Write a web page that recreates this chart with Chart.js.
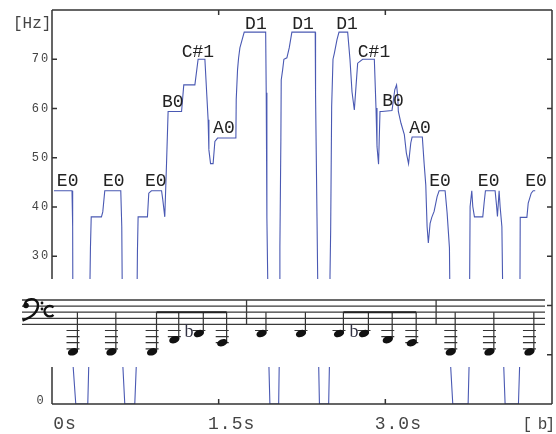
<!DOCTYPE html>
<html>
<head>
<meta charset="utf-8">
<script src="https://cdn.jsdelivr.net/npm/chart.js@4"></script>
<style>
  html, body { margin: 0; padding: 0; background: #fff; }
</style>
</head>
<body>
<canvas id="pitchChart" width="556" height="434"></canvas>
<script>
// pitch contour (seconds, Hz)
const times = [
  0.018, 0.180, 0.186, 0.189, 0.214,
  0.322, 0.331, 0.346, 0.353, 0.445, 0.457, 0.475, 0.619, 0.628, 0.637, 0.655,
  0.745, 0.759, 0.769, 0.775, 0.859, 0.871, 0.895, 0.986, 0.997, 1.015, 1.031, 1.045,
  1.166, 1.186, 1.286, 1.315, 1.376, 1.394, 1.405, 1.412, 1.427, 1.450, 1.466, 1.490,
  1.655, 1.658, 1.670, 1.679, 1.691, 1.730, 1.923, 1.928, 1.934, 1.952, 1.961,
  2.040, 2.045, 2.051, 2.060, 2.063, 2.076, 2.087, 2.114, 2.135, 2.159, 2.369, 2.372,
  2.385, 2.400, 2.407,
  2.490, 2.497, 2.502, 2.508, 2.517, 2.529, 2.541, 2.565, 2.583, 2.661, 2.682, 2.700,
  2.721, 2.736, 2.751, 2.796, 2.901, 2.916, 2.925, 2.939, 2.952, 2.970, 3.060, 3.085,
  3.101, 3.112, 3.117, 3.141, 3.171, 3.189, 3.209, 3.229, 3.241, 3.333, 3.349, 3.364,
  3.369, 3.376, 3.387, 3.403, 3.418, 3.439, 3.466, 3.484, 3.538, 3.556, 3.577, 3.587, 3.607,
  3.745, 3.754, 3.763, 3.778, 3.787, 3.802, 3.877, 3.889, 3.901, 3.988, 4.000, 4.009,
  4.015, 4.024, 4.033, 4.049, 4.065, 4.078,
  4.198, 4.209, 4.214, 4.274, 4.286, 4.313, 4.331, 4.349
];
const pitch = [
  43.3, 43.3, 36, 8, 0,
  0, 8, 31.7, 38, 38, 39, 43.3, 43.3, 36, 8, 0,
  0, 8, 31, 38, 38, 42.8, 43.3, 43.3, 41.5, 38, 49, 59.4,
  59.4, 64.8, 64.8, 70, 70, 62.4, 57.7, 51.6, 48.8, 48.8, 53.3, 54,
  54, 61.8, 67.9, 70.2, 72.3, 75.5, 75.5, 63.2, 37.8, 8, 0,
  0, 8, 32, 54, 65.8, 67.9, 70, 70.3, 72.3, 75.5, 75.5, 62.8,
  37.8, 8, 0,
  0, 8, 26, 35.3, 60.4, 70, 71.2, 74, 75.5, 75.5, 69.9, 63.4,
  59.7, 64.5, 69.2, 70, 70, 60.1, 52.3, 48.7, 59.4, 59.4, 59.6, 63.8,
  64.8, 62.4, 59.4, 57, 54.7, 51, 48.8, 53, 54.2, 54.2, 48.9, 44.5,
  40.8, 36, 32.7, 36.7, 37.9, 39.1, 42.1, 43.3, 43.3, 38.8, 31.7, 8, 0,
  0, 8, 40.1, 43.3, 40.1, 38, 38, 40.8, 43.3, 43.3, 40.5, 38.1,
  40.1, 43.3, 40.1, 36, 8, 0,
  0, 8, 37.9, 37.9, 40.8, 42.8, 43.3, 43.3
];

// note names written above the contour
const noteNames = ["E0", "E0", "E0", "B0", "C#1", "A0", "D1", "D1", "D1", "C#1", "B0", "A0", "E0", "E0", "E0"];
const noteLabelTimes = [0.141, 0.556, 0.934, 1.087, 1.313, 1.547, 1.835, 2.259, 2.655, 2.898, 3.069, 3.312, 3.493, 3.930, 4.357];
const noteLabelHz = [44.3, 44.3, 44.3, 60.3, 70.5, 55.0, 76.2, 76.2, 76.2, 70.5, 60.5, 55.0, 44.3, 44.3, 44.3];

// score: note time, staff step below the bottom line, flat sign
const staffNoteTimes = [0.189, 0.535, 0.901, 1.101, 1.322, 1.532, 1.886, 2.241, 2.583, 2.808, 3.022, 3.238, 3.589, 3.937, 4.297];
const staffSteps = [9, 9, 9, 5, 3, 6, 3, 3, 3, 3, 5, 6, 9, 9, 9];
const staffFlats = [0, 0, 0, 0, 1, 0, 0, 0, 0, 1, 0, 0, 0, 0, 0];
const beamGroups = [[2, 5], [8, 11]];
const barTimes = [1.751, 3.457];

const yTickLabels = [0, 30, 40, 50, 60, 70];
const yRightTicks = [10, 20, 30, 40, 50, 60, 70];
const xTicks = [0, 1.5, 3.0];
const xTickLabels = ["0s", "1.5s", "3.0s"];

const MONO = '"Liberation Mono", "DejaVu Sans Mono", monospace';

const overlay = {
  id: "overlay",
  afterDatasetsDraw(chart) {
    const ctx = chart.ctx;
    const a = chart.chartArea;
    const xs = chart.scales.x, ys = chart.scales.y;
    const bandTop = 279, bandBot = 367;
    ctx.save();

    // blank band for the score
    ctx.fillStyle = "#fff";
    ctx.fillRect(14, bandTop, a.right - 3 - 14, bandBot - bandTop);

    // frame
    ctx.strokeStyle = "#333";
    ctx.lineWidth = 1.5;
    ctx.beginPath();
    ctx.moveTo(a.left, a.top); ctx.lineTo(a.right, a.top);
    ctx.moveTo(a.right, a.top); ctx.lineTo(a.right, a.bottom);
    ctx.moveTo(a.left, a.bottom); ctx.lineTo(a.right, a.bottom);
    ctx.moveTo(a.left, a.top); ctx.lineTo(a.left, bandTop);
    ctx.moveTo(a.left, bandBot); ctx.lineTo(a.left, a.bottom);
    yTickLabels.forEach(v => {
      if (v === 0) return;
      const y = ys.getPixelForValue(v);
      ctx.moveTo(a.left, y); ctx.lineTo(a.left + 5, y);
    });
    yRightTicks.forEach(v => {
      const y = ys.getPixelForValue(v);
      ctx.moveTo(a.right - 5, y); ctx.lineTo(a.right, y);
    });
    xTicks.forEach(t => {
      if (t === 0) return;
      const x = xs.getPixelForValue(t);
      ctx.moveTo(x, a.bottom); ctx.lineTo(x, a.bottom - 5);
      ctx.moveTo(x, a.top); ctx.lineTo(x, a.top + 5);
    });
    ctx.stroke();

    // axis texts
    ctx.fillStyle = "#444";
    ctx.font = "12px " + MONO;
    ctx.letterSpacing = "2px";
    ctx.textAlign = "center";
    ctx.textBaseline = "middle";
    yTickLabels.forEach(v => {
      const y = ys.getPixelForValue(v) - (v === 0 ? 3 : 0);
      ctx.fillText(String(v), 41, y);
    });
    ctx.letterSpacing = "1px";
    ctx.font = "18px " + MONO;
    ctx.textBaseline = "alphabetic";
    xTicks.forEach((t, i) => {
      ctx.fillText(xTickLabels[i], xs.getPixelForValue(t) + 13, 429);
    });
    ctx.letterSpacing = "0px";
    ctx.font = "16px " + MONO;
    ctx.textAlign = "left";
    ctx.fillText("[Hz]", 13, 28);
    ctx.textAlign = "right";
    ctx.letterSpacing = "-2px";
    ctx.fillText("[ b]", 553, 429);
    ctx.letterSpacing = "0px";

    // note names
    ctx.fillStyle = "#222";
    ctx.font = "18px " + MONO;
    ctx.textAlign = "center";
    noteNames.forEach((n, i) => {
      ctx.fillText(n, xs.getPixelForValue(noteLabelTimes[i]), ys.getPixelForValue(noteLabelHz[i]));
    });

    // staff
    const top = 300, gap = 6.1;
    const bottomLine = top + 4 * gap;
    const stepY = s => bottomLine + s * gap / 2;
    ctx.strokeStyle = "#3a3a3a";
    ctx.lineWidth = 1.3;
    ctx.beginPath();
    for (let i = 0; i < 5; i++) {
      ctx.moveTo(22, top + i * gap); ctx.lineTo(545, top + i * gap);
    }
    barTimes.forEach(t => {
      const x = xs.getPixelForValue(t);
      ctx.moveTo(x, top); ctx.lineTo(x, bottomLine);
    });
    ctx.stroke();

    // bass clef
    ctx.strokeStyle = "#111";
    ctx.fillStyle = "#111";
    ctx.lineWidth = 2.4;
    ctx.beginPath();
    ctx.moveTo(25, 305);
    ctx.bezierCurveTo(24, 298, 38, 296.5, 38, 305);
    ctx.bezierCurveTo(38, 312, 31, 317.5, 22.5, 320.5);
    ctx.stroke();
    ctx.beginPath(); ctx.arc(26, 305.5, 2.8, 0, Math.PI * 2); ctx.fill();
    ctx.beginPath(); ctx.arc(42, 303, 1.4, 0, Math.PI * 2); ctx.fill();
    ctx.beginPath(); ctx.arc(42, 309, 1.4, 0, Math.PI * 2); ctx.fill();
    // common time
    ctx.beginPath();
    ctx.arc(49.8, 311.2, 5.2, -Math.PI / 4, Math.PI / 4, true);
    ctx.stroke();

    // notes
    const stemX = [];
    staffNoteTimes.forEach((t, i) => {
      const x = xs.getPixelForValue(t);
      const y = stepY(staffSteps[i]);
      ctx.strokeStyle = "#333";
      ctx.lineWidth = 1.2;
      ctx.beginPath();
      for (let k = 2; k <= staffSteps[i]; k += 2) {
        ctx.moveTo(x - 6.5, stepY(k)); ctx.lineTo(x + 6.5, stepY(k));
      }
      const sx = x + 4.4;
      stemX.push(sx);
      ctx.moveTo(sx, y - 1); ctx.lineTo(sx, top + 2 * gap);
      ctx.stroke();
      ctx.fillStyle = "#111";
      ctx.beginPath();
      ctx.ellipse(x, y, 5.3, 3.5, -0.35, 0, Math.PI * 2);
      ctx.fill();
      if (staffFlats[i]) {
        ctx.fillStyle = "#334";
        ctx.font = '18px "Liberation Serif"';
        ctx.textAlign = "center";
        ctx.fillText("b", x - 10, y + 3);
      }
    });
    ctx.strokeStyle = "#222";
    ctx.lineWidth = 2;
    ctx.beginPath();
    beamGroups.forEach(([s, e]) => {
      ctx.moveTo(stemX[s], top + 2 * gap); ctx.lineTo(stemX[e], top + 2 * gap);
    });
    ctx.stroke();

    ctx.restore();
  }
};

new Chart(document.getElementById("pitchChart"), {
  type: "line",
  data: {
    datasets: [{
      data: times.map((t, i) => ({ x: t, y: pitch[i] })),
      borderColor: "#4a59b3",
      borderWidth: 1.1,
      pointRadius: 0,
      tension: 0,
      fill: false
    }]
  },
  options: {
    responsive: false,
    animation: false,
    devicePixelRatio: 1,
    layout: { padding: { left: 52, top: 10, right: 4, bottom: 30 } },
    scales: {
      x: { type: "linear", min: 0, max: 4.5, display: false },
      y: { min: 0, max: 80, display: false }
    },
    plugins: { legend: { display: false }, tooltip: { enabled: false } }
  },
  plugins: [overlay]
});
</script>
</body>
</html>
